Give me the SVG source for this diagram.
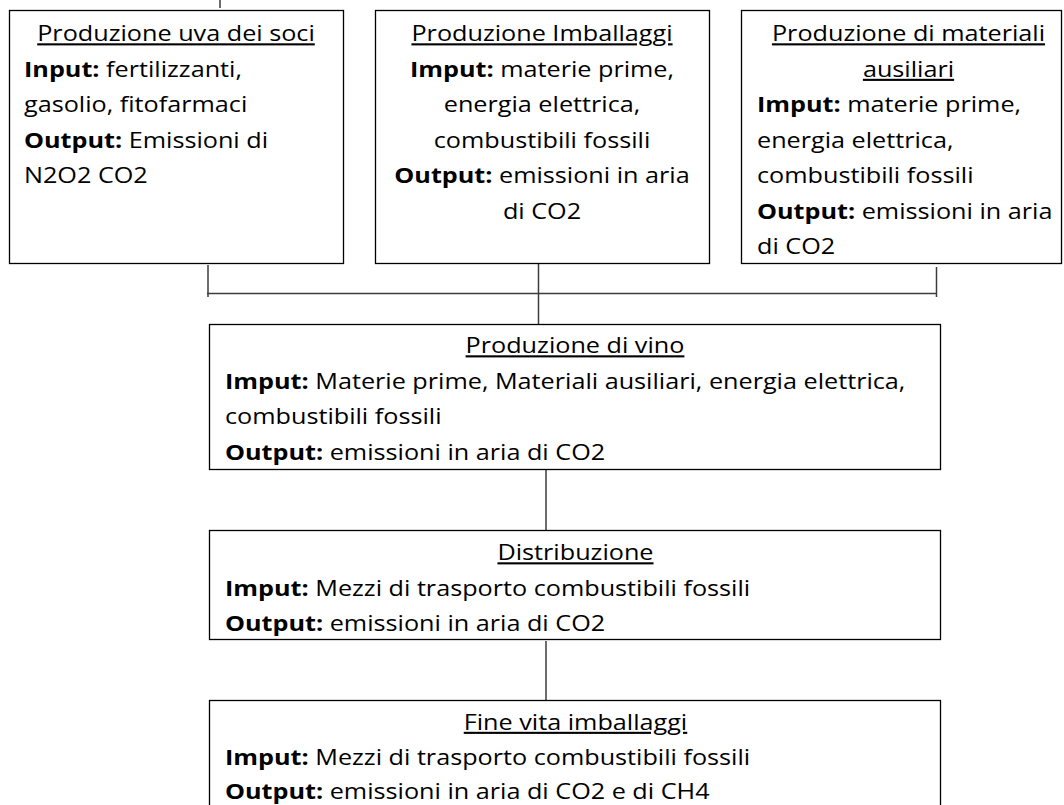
<svg xmlns="http://www.w3.org/2000/svg" width="1064" height="805" viewBox="0 0 1064 805">
<style>
.box{fill:#fff;stroke:#000;stroke-width:1.3}
.t{font-family:"Open Sans","Noto Sans","Liberation Sans",sans-serif;font-size:21px;fill:#000}
.b{font-weight:bold}
.u{text-decoration:underline}
.c{text-anchor:middle}
#connectors line{stroke:#3c3c3c;stroke-width:1.5;fill:none}
</style>
<rect width="1064" height="805" fill="#fff"/>
<g id="connectors">
<line x1="220" y1="0" x2="220" y2="8"/>
<line x1="208" y1="265" x2="208" y2="297"/>
<line x1="207" y1="293.5" x2="937" y2="293.5"/>
<line x1="538.5" y1="263" x2="538.5" y2="324"/>
<line x1="936.5" y1="267" x2="936.5" y2="297"/>
<line x1="546" y1="469" x2="546" y2="530"/>
<line x1="546" y1="641" x2="546" y2="700"/>
</g>
<g id="node-uva">
<rect class="box" x="9.5" y="10.5" width="334" height="253"/>
<g transform="scale(1.2 1)">
<text class="t c u" x="146.67" y="41.5">Produzione uva dei soci</text>
<text class="t" x="20" y="77"><tspan class="b">Input:</tspan> fertilizzanti,</text>
<text class="t" x="20" y="112.5">gasolio, fitofarmaci</text>
<text class="t" x="20" y="148"><tspan class="b">Output:</tspan> Emissioni di</text>
<text class="t" x="20" y="183.5">N2O2 CO2</text>
</g>
</g>
<g id="node-imballaggi">
<rect class="box" x="375.5" y="10.5" width="334" height="253"/>
<g transform="scale(1.2 1)">
<text class="t c u" x="451.67" y="41.5">Produzione Imballaggi</text>
<text class="t c" x="451.67" y="77"><tspan class="b">Imput:</tspan> materie prime,</text>
<text class="t c" x="451.67" y="112.5">energia elettrica,</text>
<text class="t c" x="451.67" y="148">combustibili fossili</text>
<text class="t c" x="451.67" y="183.5"><tspan class="b">Output:</tspan> emissioni in aria</text>
<text class="t c" x="451.67" y="219">di CO2</text>
</g>
</g>
<g id="node-ausiliari">
<rect class="box" x="741.5" y="10.5" width="320" height="253"/>
<g transform="scale(1.2 1)">
<text class="t c u" x="757.08" y="41.5">Produzione di materiali</text>
<text class="t c u" x="757.08" y="77">ausiliari</text>
<text class="t" x="630.83" y="112.5"><tspan class="b">Imput:</tspan> materie prime,</text>
<text class="t" x="630.83" y="148">energia elettrica,</text>
<text class="t" x="630.83" y="183.5">combustibili fossili</text>
<text class="t" x="630.83" y="219"><tspan class="b">Output:</tspan> emissioni in aria</text>
<text class="t" x="630.83" y="254.5">di CO2</text>
</g>
</g>
<g id="node-vino">
<rect class="box" x="209.5" y="324.5" width="731" height="145"/>
<g transform="scale(1.2 1)">
<text class="t c u" x="479.17" y="353.5">Produzione di vino</text>
<text class="t" x="187.5" y="389"><tspan class="b">Imput:</tspan> Materie prime, Materiali ausiliari, energia elettrica,</text>
<text class="t" x="187.5" y="424.5">combustibili fossili</text>
<text class="t" x="187.5" y="460"><tspan class="b">Output:</tspan> emissioni in aria di CO2</text>
</g>
</g>
<g id="node-distribuzione">
<rect class="box" x="209.5" y="530.5" width="731" height="109"/>
<g transform="scale(1.2 1)">
<text class="t c u" x="479.58" y="560.5">Distribuzione</text>
<text class="t" x="187.5" y="596"><tspan class="b">Imput:</tspan> Mezzi di trasporto combustibili fossili</text>
<text class="t" x="187.5" y="631.5"><tspan class="b">Output:</tspan> emissioni in aria di CO2</text>
</g>
</g>
<g id="node-finevita">
<rect class="box" x="209.5" y="700.5" width="731" height="130"/>
<g transform="scale(1.2 1)">
<text class="t c u" x="479.58" y="730">Fine vita imballaggi</text>
<text class="t" x="187.5" y="765.5"><tspan class="b">Imput:</tspan> Mezzi di trasporto combustibili fossili</text>
<text class="t" x="187.5" y="799"><tspan class="b">Output:</tspan> emissioni in aria di CO2 e di CH4</text>
</g>
</g>
</svg>
